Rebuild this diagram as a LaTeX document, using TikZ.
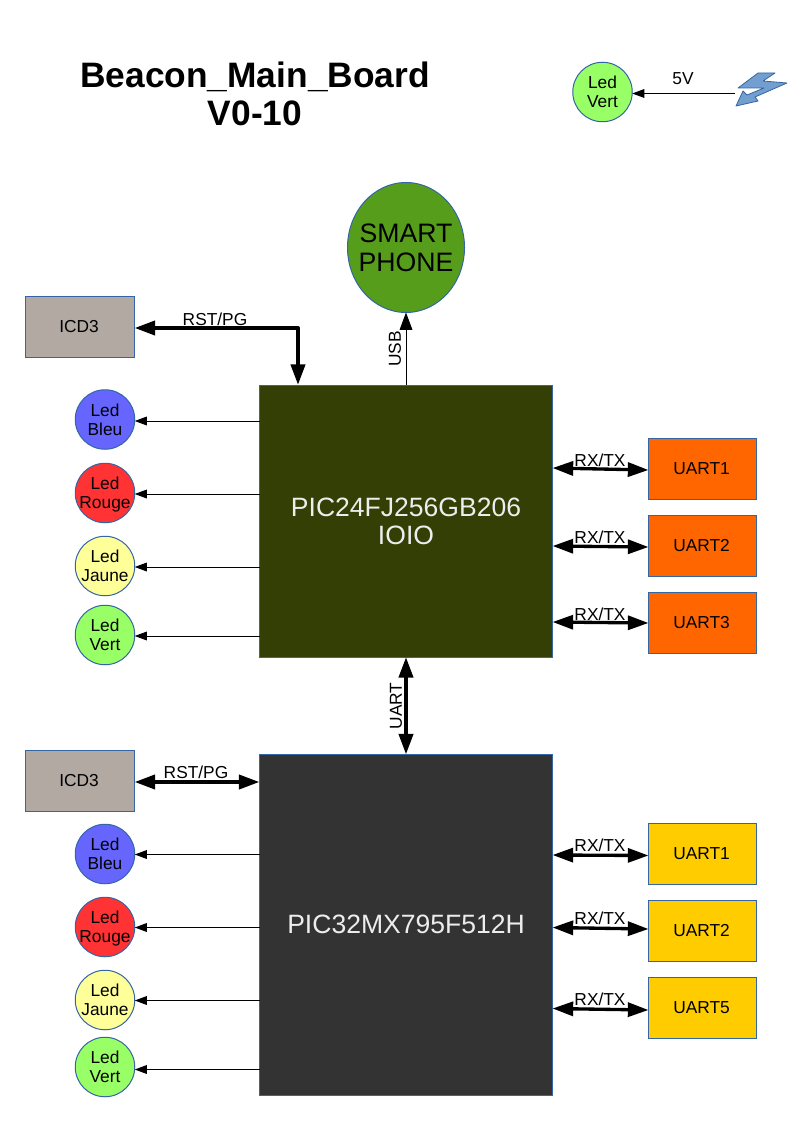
\documentclass[tikz,border=0pt]{standalone}
\usepackage{fontspec}
\setmainfont{Liberation Sans}
\usetikzlibrary{arrows.meta,shapes.geometric}
\definecolor{edgeblue}{HTML}{3465A4}
\definecolor{flashfill}{HTML}{729FCF}
\definecolor{icdgrey}{HTML}{B2A9A3}
\definecolor{olivepic}{HTML}{333F04}
\definecolor{darkpic}{HTML}{333333}
\definecolor{orangeu}{HTML}{FF6600}
\definecolor{yellowu}{HTML}{FFCC00}
\definecolor{phonegreen}{HTML}{579D1C}
\definecolor{ledblue}{HTML}{6666FF}
\definecolor{ledred}{HTML}{FF3333}
\definecolor{ledyellow}{HTML}{FFFF99}
\definecolor{ledgreen}{HTML}{99FF66}
\tikzset{
  x=0.75pt,y=-0.75pt,
  sized/.style 2 args={minimum width=#1*0.75pt,minimum height=#2*0.75pt,inner sep=0pt,outer sep=0pt},
  basebox/.style={draw=edgeblue,line width=0.75pt,align=center,font=\fontsize{13}{15}\selectfont,text=black},
  icdbox/.style={basebox,fill=icdgrey,sized={109}{61},execute at begin node=\kern-1.5pt},
  uartor/.style={basebox,fill=orangeu,sized={108}{61},execute at begin node=\kern-1.5pt},
  uartye/.style={basebox,fill=yellowu,sized={108}{61},execute at begin node=\kern-1.5pt},
  picbox/.style={basebox,font=\fontsize{19.9}{21}\selectfont,text=white!93!black},
  led/.style={basebox,circle,sized={59.5}{59.5},inner sep=-6pt,font=\fontsize{13}{14.5}\selectfont},
  lbl/.style={inner sep=0pt,outer sep=0pt,font=\fontsize{13}{15}\selectfont,text=black},
  thinarr/.style={line width=0.75pt,-{Triangle[length=9pt,width=6.5pt]}},
  usbarr/.style={line width=0.75pt,-{Triangle[length=13pt,width=9.5pt]}},
  thickboth/.style={line width=3pt,{Triangle[length=15.5pt,width=10.5pt]}-{Triangle[length=15.5pt,width=10.5pt]}},
  thinner/.style={line width=2.5pt,{Triangle[length=15.5pt,width=10.5pt]}-{Triangle[length=15.5pt,width=10.5pt]}},
}
\begin{document}
\begin{tikzpicture}
\useasboundingbox (0,0) rectangle (794,1123);
\node[inner sep=0pt,align=center,font=\fontsize{26.5}{28.5}\bfseries\selectfont] (title) at (255,94) {Beacon\_Main\_Board\\V0-10};
% top led and flash
\node[led,fill=ledgreen] (ledtop) at (602.5,92) {Led\\Vert};
\draw[draw=edgeblue,fill=flashfill,line width=0.6pt,line join=round]
  (758,73) -- (775,73) -- (763,81) -- (787,83) -- (755,97) -- (758,101) -- (736,106) -- (743,91) -- (747,95) -- (764,88) -- (738,88) -- cycle;
\coordinate (flashend) at (735,93.5);
\draw[thinarr] (flashend) -- (ledtop.east |- flashend);
\node[lbl] (lfive) at (683,79) {5V};
% phone
\node[basebox,ellipse,sized={117}{130},fill=phonegreen,label={[font=\fontsize{20}{21.75}\selectfont,align=center,text=black,inner sep=0pt]center:SMART\\PHONE}] (phone) at (406,247.5) {};
% processors
\node[picbox,fill=olivepic,sized={293}{272}] (pica) at (406,521) {PIC24FJ256GB206\\IOIO};
\node[picbox,fill=darkpic,sized={293}{341}] (picb) at (406,925) {\raisebox{0.75pt}{PIC32MX795F512H}};
% upper left
\node[icdbox] (icda) at (80,327) {ICD3};
\node[led,fill=ledblue] (lba) at (105,419.5) {Led\\Bleu};
\node[led,fill=ledred] (lra) at (105,493) {Led\\Rou\smash{g}e};
\node[led,fill=ledyellow] (lja) at (105,566) {Led\\Jaune};
\node[led,fill=ledgreen] (lva) at (105,635) {Led\\Vert};
% lower left
\node[icdbox] (icdb) at (80,781) {ICD3};
\node[led,fill=ledblue] (lbb) at (105,854) {Led\\Bleu};
\node[led,fill=ledred] (lrb) at (105,927) {Led\\Rou\smash{g}e};
\node[led,fill=ledyellow] (ljb) at (105,1000) {Led\\Jaune};
\node[led,fill=ledgreen] (lvb) at (105,1067) {Led\\Vert};
% uarts
\node[uartor] (ua) at (702.5,469) {UART1};
\node[uartor] (ub) at (702.5,546) {UART2};
\node[uartor] (uc) at (702.5,623) {UART3};
\node[uartye] (ud) at (702.5,854) {UART1};
\node[uartye] (ue) at (702.5,931) {UART2};
\node[uartye] (uf) at (702.5,1008) {UART5};
% thin led connectors
\foreach \l/\y/\p in {lba/421/pica,lra/494/pica,lja/567/pica,lva/636/pica,lbb/854.5/picb,lrb/927.5/picb,ljb/1000.5/picb,lvb/1069.5/picb}
  \draw[thinarr] (\p.west |- 0,\y) -- (\l.east |- 0,\y);
% USB
\draw[usbarr] (pica.north) -- (phone.south);
\node[lbl,rotate=90] (lusb) at (395,349) {USB};
% RST/PG upper
\coordinate (corner) at (298,328);
\draw[thickboth,line join=round] (icda.east |- corner) -- (corner) -- (corner |- pica.north);
\node[lbl] (lrsta) at (215,319) {RST/PG};
% RST/PG lower
\draw[thickboth] (icdb.east |- 0,782) -- (picb.west |- 0,782);
\node[lbl] (lrstb) at (196,772) {RST/PG};
% UART link
\draw[thickboth] (pica.south) -- (picb.north);
\node[lbl,rotate=90] (luart) at (396,706) {UART};
% RX/TX
\draw[thinner] (pica.east |- 0,468) -- (ua.west |- 0,470);
\node[lbl] at (600,460) (rxa) {RX/TX};
\draw[thinner] (pica.east |- 0,546) -- (ub.west |- 0,547);
\node[lbl] at (600,537) (rxb) {RX/TX};
\draw[thinner] (pica.east |- 0,622) -- (uc.west |- 0,623);
\node[lbl] at (600,614) (rxc) {RX/TX};
\draw[thinner] (picb.east |- 0,855) -- (ud.west |- 0,855.5);
\node[lbl] at (600,845) (rxd) {RX/TX};
\draw[thinner] (picb.east |- 0,927.5) -- (ue.west |- 0,929);
\node[lbl] at (600,918) (rxe) {RX/TX};
\draw[thinner] (picb.east |- 0,1008.5) -- (uf.west |- 0,1010);
\node[lbl] at (600,999) (rxf) {RX/TX};
\end{tikzpicture}
\end{document}
